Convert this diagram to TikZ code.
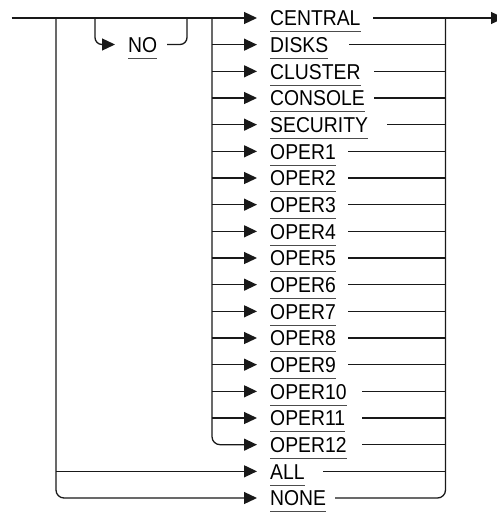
\documentclass[tikz,border=0pt]{standalone}
\usepackage{fontspec}
\setmainfont[FakeStretch=0.9]{Liberation Sans}
\usetikzlibrary{arrows.meta}
\begin{document}
\begin{tikzpicture}[x=1pt,y=-1pt,
  line/.style={line width=1.3pt, black!90},
  arr/.style={line, -{Triangle[length=13pt,width=12pt]}},
  rc/.style={rounded corners=8pt},
  rcs/.style={rounded corners=7pt},
  lbl/.style={font=\fontsize{21.5}{23}\selectfont, inner sep=0pt, anchor=base west},
  ul/.style={line width=1pt, black!70}]
\useasboundingbox (0,0) rectangle (497,512);
% junction coordinates
\coordinate (start) at (11.5,18);
\coordinate (jl) at (56,18);
\coordinate (jn1) at (95,18);
\coordinate (jn2) at (187,18);
\coordinate (ji) at (212,18);
\coordinate (jr) at (445.5,18);
\coordinate (end) at (504,18);
% items
\foreach \txt/\xs [count=\k from 0] in {CENTRAL/373, DISKS/349, CLUSTER/374, CONSOLE/374, SECURITY/387, OPER1/348, OPER2/348, OPER3/348, OPER4/348, OPER5/348, OPER6/348, OPER7/348, OPER8/348, OPER9/348, OPER10/362, OPER11/362, OPER12/362, ALL/323, NONE/335} {
  \pgfmathsetmacro\yy{18+26.667*\k}
  \coordinate (a\k) at (257,\yy);
  \node[lbl] (t\k) at (270,\yy+7.7) {\txt};
  \draw[ul] ([yshift=-6pt]t\k.base west) -- ([yshift=-6pt]t\k.base east);
  \coordinate (b\k) at (\xs,\yy);
}
% NO loop
\coordinate (ano) at (115,44.5);
\node[lbl] (no) at (128,44.5+7.7) {NO};
\draw[ul] ([yshift=-6pt]no.base west) -- ([yshift=-6pt]no.base east);
\coordinate (bno) at (167,44.5);
\draw[arr,rcs] (jn1) |- (ano);
\draw[line,rcs] (bno) -| (jn2);
% main line
\draw[arr] (start) -- (a0);
\draw[arr] (b0) -- (end);
% left branches
\foreach \k in {1,...,15} \draw[arr] (ji |- a\k) -- (a\k);
\draw[arr,rc] (ji) |- (a16);
\draw[arr] (jl |- a17) -- (a17);
\draw[arr,rc] (jl) |- (a18);
% right branches
\foreach \k in {1,...,17} \draw[line] (b\k) -- (jr |- b\k);
\draw[line,rc] (b18) -| (jr);
\end{tikzpicture}
\end{document}
